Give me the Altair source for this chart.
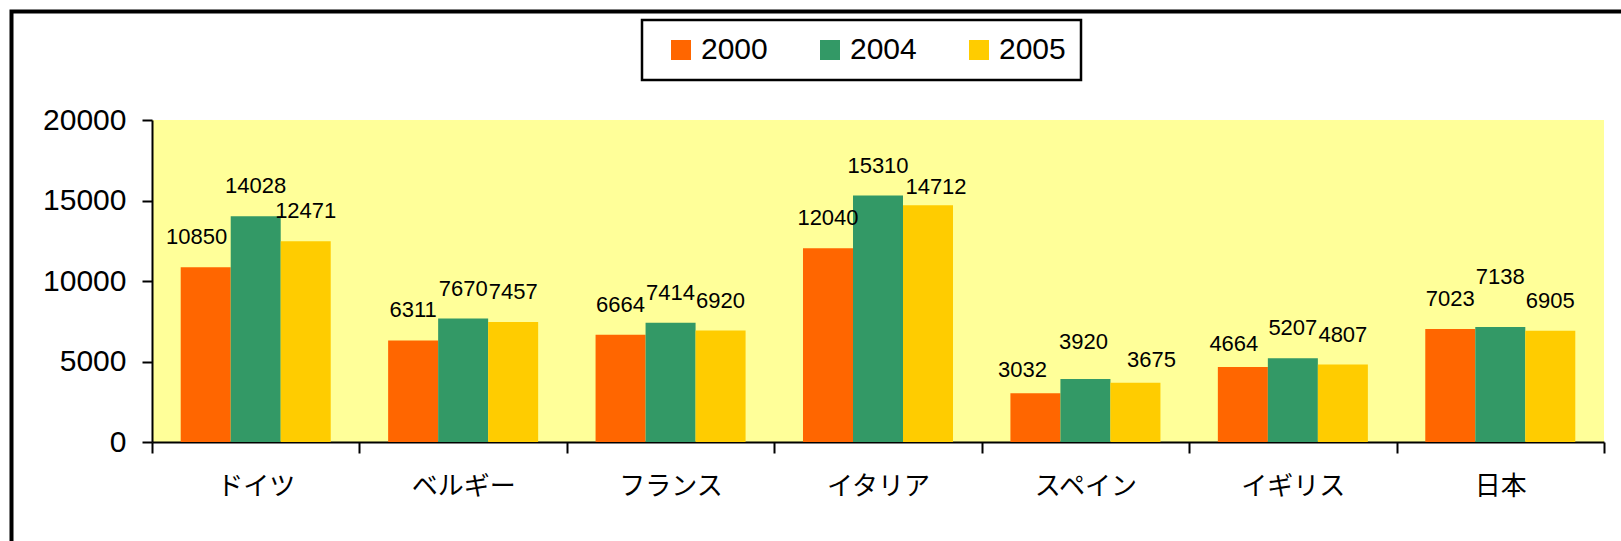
import altair as alt
import pandas as pd

# Countries (x categories) and the three survey years
countries = ["ドイツ", "ベルギー", "フランス", "イタリア", "スペイン", "イギリス", "日本"]
years = ["2000", "2004", "2005"]

values_2000 = [10850, 6311, 6664, 12040, 3032, 4664, 7023]
values_2004 = [14028, 7670, 7414, 15310, 3920, 5207, 7138]
values_2005 = [12471, 7457, 6920, 14712, 3675, 4807, 6905]

colors = ["#FF6600", "#339966", "#FFCC00"]

rows = []
for year, series in zip(years, [values_2000, values_2004, values_2005]):
    for country, v in zip(countries, series):
        rows.append({"country": country, "year": year, "value": v})
df = pd.DataFrame(rows)
df["key"] = df["country"] + "|" + df["year"]

W, H = 1452, 322
PAD = {"left": 152, "top": 120, "right": 17, "bottom": 99}
TOTAL_W, TOTAL_H = 1621, 541

x_enc = alt.X(
    "country:N",
    sort=countries,
    scale=alt.Scale(paddingInner=0, paddingOuter=0),
    axis=alt.Axis(
        title=None,
        labelAngle=0,
        labelFont="Noto Sans CJK JP",
        labelFontSize=26,
        labelColor="black",
        labelPadding=20,
        tickBand="extent",
        tickSize=11,
        tickWidth=2,
        tickColor="black",
        domainColor="black",
        domainWidth=2,
    ),
)
xoff_enc = alt.XOffset(
    "year:N", sort=years, scale=alt.Scale(paddingInner=0, paddingOuter=0.574)
)
y_enc = alt.Y(
    "value:Q",
    scale=alt.Scale(domain=[0, 20000], nice=False),
    axis=alt.Axis(
        title=None,
        values=[0, 5000, 10000, 15000, 20000],
        format="d",
        grid=False,
        labelFont="Liberation Sans",
        labelFontSize=30,
        labelColor="black",
        labelPadding=16,
        tickSize=10,
        tickWidth=2,
        tickColor="black",
        domainColor="black",
        domainWidth=2,
    ),
)

base = alt.Chart(df)

bars = base.mark_bar(strokeWidth=0).encode(
    x=x_enc,
    xOffset=xoff_enc,
    y=y_enc,
    color=alt.Color(
        "year:N",
        sort=years,
        scale=alt.Scale(domain=years, range=colors),
        legend=alt.Legend(
            title=None,
            orient="none",
            direction="horizontal",
            legendX=490,
            legendY=-100,
            symbolType="square",
            symbolSize=400,
            symbolStrokeWidth=0,
            symbolOffset=9,
            labelFont="Liberation Sans",
            labelFontSize=30,
            labelColor="black",
            labelOffset=5,
            columnPadding=38,
            padding=15,
            strokeColor="black",
            fillColor="white",
            cornerRadius=0,
        ),
    ),
)

# Value labels sit above each bar; a few are shifted so neighbours don't collide
label_style = dict(font="Liberation Sans", fontSize=22, color="black", baseline="middle")
label_enc = dict(
    x=alt.X("country:N", sort=countries),
    xOffset=alt.XOffset("year:N", sort=years),
    y=alt.Y("value:Q"),
    text=alt.Text("value:Q", format="d"),
)
LABEL_DY = -30
label_shift = {
    "ドイツ|2000": (-9, -30),
    "イタリア|2005": (8, -18),
    "スペイン|2000": (-13, -23),
    "スペイン|2004": (-2, -37),
    "スペイン|2005": (16, -23),
    "イギリス|2000": (-9, -23),
    "日本|2004": (0, -50),
}

label_layers = [
    base.transform_filter(
        ~alt.FieldOneOfPredicate(field="key", oneOf=list(label_shift))
    )
    .mark_text(dy=LABEL_DY, **label_style)
    .encode(**label_enc)
]
for key, (ddx, ddy) in label_shift.items():
    label_layers.append(
        base.transform_filter(alt.datum.key == key)
        .mark_text(dx=ddx, dy=ddy, **label_style)
        .encode(**label_enc)
    )

# Outer frame around the whole figure
frame = alt.Chart(pd.DataFrame({"k": [0]})).mark_rect(
    filled=False, stroke="black", strokeWidth=4
).encode(
    x=alt.value(11.5 - PAD["left"]),
    x2=alt.value(TOTAL_W - PAD["left"] + 20),
    y=alt.value(11.5 - PAD["top"]),
    y2=alt.value(TOTAL_H - PAD["top"] + 20),
)

chart = (
    alt.layer(bars, *label_layers, frame)
    .properties(
        width=W,
        height=H,
        padding=PAD,
        autosize=alt.AutoSizeParams(type="none"),
        background="white",
    )
    .configure_view(fill="#FFFF99", stroke=None)
    .configure_legend(strokeWidth=2.5)
)

chart.save("out.html", embed_options={"renderer": "svg", "actions": False})
